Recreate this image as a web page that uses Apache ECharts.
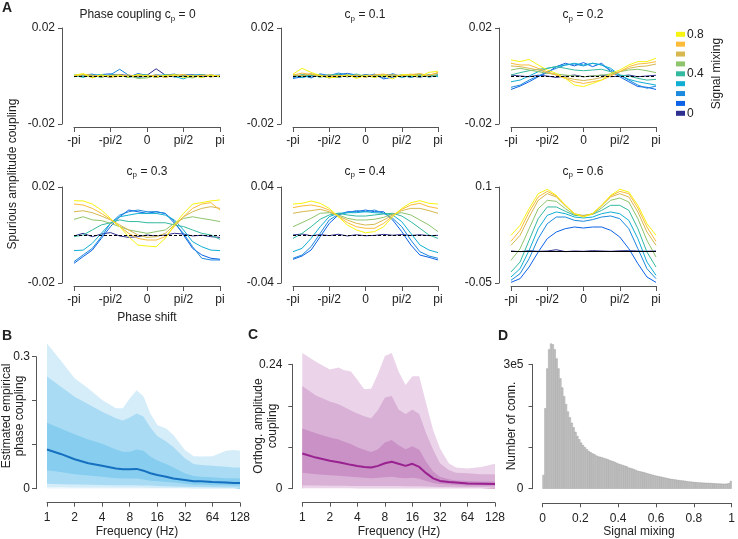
<!DOCTYPE html>
<html>
<head>
<meta charset="utf-8">
<script src="https://cdn.jsdelivr.net/npm/echarts@6/dist/echarts.min.js"></script>
<style>
html, body { margin: 0; padding: 0; background: #fff; }
#chart { width: 738px; height: 539px; }
</style>
</head>
<body>
<div id="chart"></div>
<script>
var FONT = 'Liberation Sans, Arial, sans-serif';

// ---- panel A: spurious amplitude coupling vs phase shift ----
var phaseLabels = ['-pi','-7pi/8','-3pi/4','-5pi/8','-pi/2','-3pi/8','-pi/4','-pi/8','0',
                   'pi/8','pi/4','3pi/8','pi/2','5pi/8','3pi/4','7pi/8','pi'];
var mixing = ['0','0.1','0.2','0.3','0.4','0.5','0.6','0.7','0.8'];
var mixColors = ['#2e2f8f','#0b62e6','#1b89dd','#10aed3','#33b99f','#8ec46c','#d6b84f','#fcbc3a','#f7f40f'];

// one row per signal mixing level (0 ... 0.8)
var cp00 = [
  [0.0002,-0.0003,0.0004,0.0001,-0.0005,0.0006,0.0002,-0.0002,0.0003,0.0030,0.0004,-0.0003,0.0002,0.0005,-0.0002,0.0004,-0.0001],
  [0.0003,0.0005,-0.0004,0.0006,0.0009,0.0002,-0.0005,0.0010,0.0003,-0.0006,0.0004,0.0008,-0.0003,0.0002,0.0006,-0.0002,0.0001],
  [-0.0002,0.0004,0.0008,-0.0003,0.0005,0.0028,0.0003,-0.0006,-0.0002,0.0005,0.0002,-0.0004,0.0006,0.0003,-0.0005,0.0002,0.0004],
  [0.0001,-0.0005,0.0003,0.0006,-0.0002,0.0004,-0.0006,0.0002,0.0005,-0.0003,0.0006,-0.0002,-0.0012,0.0003,0.0005,-0.0004,0.0002],
  [0.0004,-0.0003,0.0002,-0.0006,0.0005,0.0003,-0.0004,0.0006,-0.0002,0.0003,-0.0005,0.0004,0.0002,-0.0003,0.0005,0.0001,-0.0004],
  [-0.0003,0.0005,-0.0006,0.0002,-0.0004,0.0003,0.0001,-0.0010,-0.0008,0.0002,-0.0005,0.0006,-0.0003,-0.0008,0.0004,-0.0002,0.0003],
  [0.0002,0.0006,-0.0002,0.0004,-0.0005,-0.0002,0.0005,-0.0003,0.0004,-0.0006,0.0003,-0.0001,0.0005,-0.0004,0.0002,0.0005,-0.0002],
  [-0.0001,0.0008,0.0003,-0.0004,0.0002,0.0005,-0.0003,0.0002,-0.0002,0.0004,-0.0006,0.0003,0.0006,-0.0002,0.0003,-0.0004,0.0002],
  [0.0003,0.0010,-0.0008,0.0005,-0.0003,0.0002,-0.0005,0.0006,0.0001,-0.0004,0.0003,0.0005,-0.0006,0.0002,-0.0007,0.0004,-0.0003]
];
var cp01 = [
  [-0.0003,0.0002,-0.0005,0.0004,0.0001,-0.0006,0.0003,-0.0002,0.0005,-0.0004,0.0002,0.0006,-0.0003,0.0001,-0.0005,0.0003,0.0002],
  [-0.0010,-0.0004,0.0006,0.0002,-0.0008,0.0005,0.0011,0.0004,-0.0003,0.0008,-0.0012,-0.0005,0.0003,-0.0006,0.0004,-0.0002,0.0005],
  [-0.0006,0.0003,-0.0008,0.0009,0.0002,0.0012,0.0005,-0.0003,0.0006,0.0001,-0.0007,0.0010,-0.0004,0.0003,0.0008,-0.0005,0.0002],
  [0.0005,-0.0007,0.0002,-0.0003,0.0006,-0.0005,0.0002,0.0008,-0.0004,0.0003,-0.0002,0.0005,-0.0006,0.0002,-0.0004,0.0006,-0.0003],
  [-0.0004,0.0006,0.0003,-0.0005,0.0002,0.0007,-0.0004,0.0003,-0.0002,0.0005,0.0004,-0.0003,0.0006,-0.0005,0.0003,0.0002,0.0004],
  [0.0003,-0.0002,0.0008,0.0004,-0.0006,0.0002,-0.0003,0.0005,0.0002,-0.0005,0.0006,0.0003,-0.0002,0.0004,0.0007,-0.0003,0.0005],
  [0.0006,0.0002,0.0010,-0.0004,0.0005,-0.0002,0.0004,-0.0006,0.0003,0.0002,-0.0004,0.0006,0.0001,0.0008,-0.0002,0.0004,0.0012],
  [0.0004,0.0012,0.0006,0.0002,-0.0005,0.0003,-0.0002,0.0004,-0.0006,0.0005,0.0008,-0.0002,0.0003,0.0006,0.0010,0.0002,0.0015],
  [0.0008,0.0032,0.0015,0.0002,-0.0008,-0.0004,0.0005,-0.0010,0.0002,-0.0006,0.0003,-0.0012,0.0006,0.0004,-0.0003,0.0015,0.0020]
];
var cp02 = [
  [0.0004,0,-0.0003,0.0003,0,-0.0006,0,0.0004,-0.0003,0,0.0003,-0.0003,0,0.0004,-0.0003,0,0.0003],
  [-0.0056,-0.0042,-0.0024,-0.0003,0.0014,0.0039,0.0053,0.0042,0.0056,0.0039,0.0053,0.0018,-0.0003,-0.0024,-0.0044,-0.0047,-0.0056],
  [-0.0047,-0.0038,-0.0017,0,0.0018,0.0032,0.0046,0.0050,0.0042,0.0053,0.0046,0.0025,0.0004,-0.0017,-0.0038,-0.0051,-0.0042],
  [-0.0024,-0.0017,0,0.0018,0.0032,0.0039,0.0046,0.0053,0.0046,0.0053,0.0046,0.0032,0.0004,-0.0014,-0.0024,-0.0031,-0.0038],
  [0.0004,0.0014,0.0022,0.0028,0.0032,0.0039,0.0032,0.0025,0.0022,0.0025,0.0028,0.0018,0.0004,0,-0.0010,-0.0017,-0.0014],
  [0.0025,0.0032,0.0025,0.0018,0.0011,0.0008,0.0004,0,-0.0003,0,0.0004,0.0008,0.0018,0.0025,0.0028,0.0022,0.0014],
  [0.0042,0.0039,0.0032,0.0025,0.0014,0.0004,-0.0006,-0.0014,-0.0019,-0.0014,-0.0006,0.0004,0.0018,0.0032,0.0039,0.0042,0.0050],
  [0.0053,0.0046,0.0046,0.0032,0.0018,0.0004,-0.0010,-0.0024,-0.0031,-0.0024,-0.0017,0,0.0018,0.0039,0.0050,0.0053,0.0060],
  [0.0067,0.0060,0.0069,0.0046,0.0025,0.0011,-0.0010,-0.0038,-0.0044,-0.0031,-0.0017,0.0011,0.0025,0.0046,0.0060,0.0060,0.0074]
];
var cp03 = [
  [-0.0004,0.0007,-0.0007,0.0004,0.0010,-0.0004,-0.0010,-0.0007,0,-0.0004,0,0.0007,0.0004,-0.0004,-0.0001,-0.0007,-0.0010],
  [-0.0118,-0.0090,-0.0063,-0.0014,0.0035,0.0076,0.0104,0.0097,0.0090,0.0097,0.0090,0.0056,0,-0.0056,-0.0083,-0.0097,-0.0101],
  [-0.0111,-0.0083,-0.0056,-0.0007,0.0049,0.0083,0.0097,0.0104,0.0097,0.0097,0.0090,0.0049,0.0007,-0.0049,-0.0097,-0.0104,-0.0104],
  [-0.0065,-0.0063,-0.0035,0.0007,0.0049,0.0076,0.0083,0.0090,0.0090,0.0090,0.0083,0.0063,0.0021,-0.0028,-0.0049,-0.0063,-0.0065],
  [-0.0007,0,0.0021,0.0042,0.0051,0.0063,0.0056,0.0056,0.0051,0.0051,0.0051,0.0042,0.0035,0.0021,0.0007,0,-0.0018],
  [0.0065,0.0076,0.0063,0.0060,0.0049,0.0035,0.0021,0.0014,0.0007,0.0014,0.0021,0.0049,0.0069,0.0076,0.0069,0.0063,0.0056],
  [0.0097,0.0101,0.0093,0.0079,0.0063,0.0042,0.0021,0,-0.0010,-0.0007,0.0007,0.0042,0.0076,0.0097,0.0111,0.0118,0.0111],
  [0.0129,0.0125,0.0111,0.0090,0.0065,0.0035,0.0007,-0.0014,-0.0021,-0.0021,-0.0007,0.0035,0.0076,0.0111,0.0129,0.0135,0.0104],
  [0.0143,0.0142,0.0129,0.0104,0.0069,0.0035,-0.0007,-0.0042,-0.0046,-0.0049,-0.0014,0.0042,0.0090,0.0129,0.0135,0.0142,0.0146]
];
var cp04 = [
  [0,0.0008,-0.0006,0.0003,-0.0005,0.0006,-0.0008,0.0002,-0.0006,-0.0003,0.0005,-0.0002,0.0004,-0.0004,0.0002,-0.0005,-0.0003],
  [-0.0203,-0.0175,-0.0125,-0.0014,0.0097,0.0167,0.0194,0.0194,0.0208,0.0194,0.0194,0.0125,0.0028,-0.0083,-0.0167,-0.0186,-0.0208],
  [-0.0194,-0.0167,-0.0097,0.0014,0.0125,0.0172,0.0186,0.0203,0.0194,0.0208,0.0181,0.0139,0.0069,-0.0042,-0.0139,-0.0175,-0.0194],
  [-0.0139,-0.0111,-0.0028,0.0069,0.0153,0.0181,0.0186,0.0186,0.0194,0.0186,0.0181,0.0167,0.0111,0.0014,-0.0083,-0.0125,-0.0147],
  [-0.0028,0.0014,0.0069,0.0131,0.0167,0.0181,0.0167,0.0158,0.0158,0.0167,0.0175,0.0181,0.0158,0.0111,0.0056,0,-0.0028],
  [0.0069,0.0103,0.0139,0.0181,0.0186,0.0167,0.0139,0.0125,0.0125,0.0131,0.0147,0.0175,0.0186,0.0167,0.0125,0.0083,0.0028],
  [0.0181,0.0194,0.0203,0.0214,0.0194,0.0158,0.0125,0.0097,0.0083,0.0089,0.0125,0.0167,0.0203,0.0222,0.0222,0.0203,0.0181],
  [0.0228,0.0242,0.0250,0.0236,0.0208,0.0153,0.0103,0.0069,0.0056,0.0056,0.0097,0.0158,0.0214,0.0250,0.0264,0.0236,0.0222],
  [0.0258,0.0264,0.0283,0.0264,0.0222,0.0153,0.0083,0.0042,0.0019,0.0028,0.0069,0.0153,0.0222,0.0269,0.0286,0.0264,0.0258]
];
var cp06 = [
  [0,-0.0010,0.0005,-0.0005,0,0.0020,-0.0010,0,-0.0005,0.0005,0,-0.0005,0.0003,0.0005,0,-0.0003,0],
  [-0.0490,-0.0432,-0.0250,-0.0016,0.0193,0.0297,0.0349,0.0375,0.0359,0.0375,0.0375,0.0323,0.0219,0.0036,-0.0198,-0.0406,-0.0490],
  [-0.0458,-0.0354,-0.0120,0.0193,0.0427,0.0531,0.0531,0.0479,0.0464,0.0490,0.0531,0.0547,0.0505,0.0349,0.0036,-0.0276,-0.0432],
  [-0.0406,-0.0276,0.0010,0.0349,0.0557,0.0610,0.0583,0.0531,0.0516,0.0531,0.0583,0.0610,0.0583,0.0479,0.0193,-0.0172,-0.0380],
  [-0.0328,-0.0172,0.0167,0.0505,0.0688,0.0688,0.0620,0.0557,0.0547,0.0573,0.0635,0.0714,0.0714,0.0635,0.0349,-0.0016,-0.0250],
  [-0.0146,0.0036,0.0349,0.0661,0.0792,0.0776,0.0661,0.0568,0.0557,0.0578,0.0672,0.0792,0.0828,0.0766,0.0505,0.0167,-0.0094],
  [0.0089,0.0245,0.0531,0.0792,0.0896,0.0844,0.0703,0.0583,0.0547,0.0583,0.0703,0.0844,0.0896,0.0844,0.0609,0.0297,0.0089],
  [0.0151,0.0323,0.0609,0.0844,0.0932,0.0860,0.0714,0.0583,0.0542,0.0583,0.0714,0.0860,0.0932,0.0896,0.0672,0.0375,0.0151],
  [0.0245,0.0401,0.0661,0.0896,0.0964,0.0870,0.0714,0.0583,0.0531,0.0583,0.0714,0.0870,0.0964,0.0922,0.0714,0.0427,0.0245]
];

// ---- panel B: estimated empirical phase coupling (quantile bands) ----
var freqB     = [1, 1.41, 2, 2.83, 4, 5.66, 6.73, 8, 9.51, 11.3, 13.45, 16, 20, 24, 32, 40, 48, 64, 90, 110, 128];
var bOuterHi  = [0.330,0.292,0.251,0.228,0.2015,0.183,0.183,0.205,0.224,0.210,0.171,0.145,0.137,0.122,0.088,0.074,0.073,0.074,0.086,0.088,0.086];
var bMidHi    = [0.255,0.232,0.209,0.192,0.175,0.160,0.155,0.162,0.171,0.164,0.139,0.120,0.107,0.095,0.069,0.056,0.054,0.052,0.050,0.048,0.048];
var bInnerHi  = [0.150,0.137,0.124,0.112,0.102,0.089,0.084,0.084,0.089,0.086,0.073,0.064,0.056,0.048,0.035,0.029,0.027,0.026,0.024,0.024,0.023];
var bMedian   = [0.089,0.079,0.067,0.058,0.052,0.046,0.044,0.044,0.045,0.041,0.035,0.031,0.027,0.023,0.020,0.017,0.017,0.015,0.014,0.013,0.013];
var bInnerLo  = [0.042,0.038,0.033,0.030,0.027,0.024,0.023,0.023,0.023,0.021,0.018,0.017,0.015,0.014,0.011,0.009,0.009,0.008,0.0076,0.0075,0.007];
var bMidLo    = [0.011,0.010,0.0095,0.009,0.0085,0.008,0.008,0.008,0.008,0.0075,0.007,0.006,0.0055,0.005,0.0045,0.004,0.004,0.0035,0.003,0.003,0.003];
var bOuterLo  = [0.0025,0.0025,0.0022,0.0022,0.002,0.002,0.002,0.002,0.002,0.002,0.0018,0.0018,0.0016,0.0015,0.0014,0.0012,0.0012,0.001,0.001,0.001,0.001];

// ---- panel C: orthogonalized amplitude coupling (quantile bands) ----
var freqC     = [1, 1.41, 2, 2.5, 2.83, 3.4, 4, 4.76, 5.66, 6.73, 8, 9.51, 11.3, 13.45, 16, 19, 22.6, 27, 32, 40, 48, 64, 90, 128];
var cOuterHi  = [0.262,0.245,0.230,0.234,0.229,0.226,0.210,0.192,0.193,0.222,0.256,0.262,0.226,0.200,0.217,0.217,0.165,0.113,0.078,0.049,0.041,0.039,0.042,0.048];
var cMidHi    = [0.198,0.180,0.168,0.163,0.158,0.151,0.145,0.140,0.136,0.152,0.176,0.179,0.153,0.144,0.153,0.144,0.107,0.075,0.049,0.036,0.031,0.030,0.028,0.028];
var cInnerHi  = [0.116,0.107,0.099,0.095,0.091,0.086,0.080,0.075,0.071,0.076,0.089,0.094,0.084,0.076,0.082,0.075,0.052,0.033,0.023,0.018,0.016,0.015,0.014,0.014];
var cMedian   = [0.068,0.060,0.054,0.051,0.049,0.046,0.044,0.042,0.041,0.044,0.049,0.052,0.048,0.044,0.048,0.042,0.030,0.020,0.015,0.013,0.012,0.010,0.0096,0.009];
var cInnerLo  = [0.031,0.028,0.026,0.025,0.024,0.023,0.022,0.021,0.020,0.021,0.022,0.023,0.021,0.020,0.021,0.019,0.015,0.011,0.009,0.008,0.007,0.0064,0.006,0.006];
var cMidLo    = [0.0064,0.006,0.0058,0.0056,0.0055,0.0054,0.0052,0.005,0.005,0.005,0.005,0.005,0.005,0.0048,0.0048,0.0046,0.0042,0.0038,0.0034,0.0032,0.003,0.003,0.003,0.003];
var cOuterLo  = [0.0012,0.0012,0.0012,0.0012,0.0012,0.0012,0.0011,0.0011,0.0011,0.0011,0.0011,0.0011,0.0011,0.0011,0.0011,0.001,0.001,0.001,0.001,0.001,0.001,0.001,0.001,0.001];

// ---- panel D: histogram of signal mixing (100 bins of width 0.01) ----
var histCounts = [
  33000,194000,290000,336000,350000,348000,336000,314000,290000,266000,
  244000,223000,204000,186000,172000,159000,148000,137000,127000,119000,
  111000,105000,100000,95000,91000,88000,85000,83000,80000,78000,
  77000,75500,74000,72500,71000,69000,67500,66000,64000,62000,
  60000,58500,57000,55500,54000,51000,50000,48500,47000,45000,
  43000,42000,41000,40000,38500,37000,36000,34500,33500,32000,
  31000,30000,29000,28000,27000,26000,25000,24000,23500,22500,
  22000,21000,20500,20000,19500,19000,18000,17500,17000,16500,
  16000,15500,15200,15000,14700,14500,14200,14000,13700,13500,
  13000,12800,12600,12400,12200,12000,12000,12200,13000,18500
];
var mixTicks = [0, 0.2, 0.4, 0.6, 0.8, 1];

var chart = echarts.init(document.getElementById('chart'), null, {renderer: 'canvas'});

var AXIS_COLOR = '#555';
var LABEL_COLOR = '#222';
var TICK_FONT = 12;

function lineAxis() { return {show: true, onZero: false, lineStyle: {color: AXIS_COLOR, width: 1}}; }
function tick(len, vals) {
  var t = {show: true, length: len, lineStyle: {color: AXIS_COLOR, width: 1}};
  if (vals) t.customValues = vals;
  return t;
}
function label(margin, vals, extra) {
  var l = {show: true, margin: margin, color: LABEL_COLOR, fontSize: TICK_FONT, fontFamily: FONT};
  if (vals) l.customValues = vals;
  if (extra) for (var k in extra) l[k] = extra[k];
  return l;
}

var grids = [], xAxes = [], yAxes = [], series = [];

var aPanels = [
  {data: cp00, min: -0.02, max: 0.02, left: 74,  top: 28,  width: 146, ref: [3, 2]},
  {data: cp01, min: -0.02, max: 0.02, left: 293, top: 28,  width: 145, ref: [3, 2]},
  {data: cp02, min: -0.02, max: 0.02, left: 511, top: 28,  width: 145, ref: [3, 2]},
  {data: cp03, min: -0.02, max: 0.02, left: 74,  top: 187, width: 146, ref: [3, 2]},
  {data: cp04, min: -0.04, max: 0.04, left: 293, top: 187, width: 145, ref: [3, 2]},
  {data: cp06, min: -0.05, max: 0.1,  left: 511, top: 187, width: 145, ref: 'solid'}
];

aPanels.forEach(function (p, i) {
  grids.push({left: p.left, top: p.top, width: p.width, height: 96});
  xAxes.push({
    gridIndex: i, type: 'category', data: phaseLabels, boundaryGap: false, offset: 3,
    axisLine: lineAxis(),
    axisTick: {show: true, interval: 3, length: 5, lineStyle: {color: AXIS_COLOR}},
    axisLabel: {interval: 3, margin: 8, color: LABEL_COLOR, fontSize: TICK_FONT, fontFamily: FONT},
    splitLine: {show: false}
  });
  yAxes.push({
    gridIndex: i, type: 'value', min: p.min, max: p.max, offset: 12,
    axisLine: lineAxis(), axisTick: tick(4, [p.min, p.max]), axisLabel: label(7, [p.min, p.max]),
    splitLine: {show: false}
  });
  p.data.forEach(function (row, m) {
    var s = {
      type: 'line', name: mixing[m], xAxisIndex: i, yAxisIndex: i, data: row,
      symbol: 'none', silent: true, z: m === 0 ? 2 : 3,
      lineStyle: {width: 1, color: mixColors[m]}, itemStyle: {color: mixColors[m]}
    };
    if (m === 0) {
      s.markLine = {
        silent: true, symbol: ['none', 'none'], label: {show: false},
        lineStyle: {color: '#000', width: 1, type: p.ref}, data: [{yAxis: 0}]
      };
    }
    series.push(s);
  });
});

// B and C: layered opaque quantile bands
function bandPanel(idx, freq, bands, median, medColor) {
  bands.forEach(function (b) {
    series.push({
      type: 'line', xAxisIndex: idx, yAxisIndex: idx, clip: false, silent: true,
      data: freq.map(function (f, j) { return [f, b[0][j]]; }),
      symbol: 'none', lineStyle: {width: 0}, areaStyle: {color: b[1], opacity: 1}
    });
  });
  series.push({
    type: 'line', xAxisIndex: idx, yAxisIndex: idx, clip: false, silent: true,
    data: freq.map(function (f, j) { return [f, median[j]]; }),
    symbol: 'none', lineStyle: {width: 2, color: medColor}
  });
}

function freqAxis(idx) {
  return {
    gridIndex: idx, type: 'log', logBase: 2, min: 1, max: 128, offset: 14,
    axisLine: lineAxis(), axisTick: tick(4), axisLabel: label(9), splitLine: {show: false}
  };
}

grids.push({left: 47, top: 356.7, width: 193, height: 132});
xAxes.push(freqAxis(6));
yAxes.push({
  gridIndex: 6, type: 'value', min: 0, max: 0.3, offset: 11,
  axisLine: lineAxis(), axisTick: tick(4, [0, 0.1, 0.2, 0.3]), axisLabel: label(6, [0, 0.3]),
  splitLine: {show: false}
});
bandPanel(6, freqB, [
  [bOuterHi, '#d5edf9'], [bMidHi, '#a9dcf4'], [bInnerHi, '#86cdef'],
  [bInnerLo, '#a9dcf4'], [bMidLo, '#d5edf9'], [bOuterLo, '#ffffff']
], bMedian, '#1670c0');

grids.push({left: 302.3, top: 364.3, width: 192.7, height: 124.4});
xAxes.push(freqAxis(7));
yAxes.push({
  gridIndex: 7, type: 'value', min: 0, max: 0.24, offset: 10,
  axisLine: lineAxis(), axisTick: tick(4, [0, 0.08, 0.16, 0.24]), axisLabel: label(10, [0, 0.24]),
  splitLine: {show: false}
});
bandPanel(7, freqC, [
  [cOuterHi, '#ebd4e9'], [cMidHi, '#dab1d6'], [cInnerHi, '#c991c6'],
  [cInnerLo, '#dab1d6'], [cMidLo, '#ebd4e9'], [cOuterLo, '#ffffff']
], cMedian, '#9a2290');

// D: histogram
grids.push({left: 542.5, top: 364.3, width: 194.2, height: 124.4});
xAxes.push({
  gridIndex: 8, type: 'category', data: histCounts.map(function (_, i) { return i; }),
  position: 'bottom', show: false, boundaryGap: true
});
xAxes.push({
  gridIndex: 8, type: 'value', min: 0, max: 1, interval: 0.2, position: 'bottom', offset: 14.6,
  axisLine: lineAxis(), axisTick: tick(4, mixTicks), axisLabel: label(9, mixTicks), splitLine: {show: false}
});
yAxes.push({
  gridIndex: 8, type: 'value', min: 0, max: 300000, offset: 10,
  axisLine: lineAxis(), axisTick: tick(4, [0, 100000, 200000, 300000]),
  axisLabel: label(9, [0, 300000], {formatter: function (v) { return v === 0 ? '0' : (v / 100000) + 'e5'; }}),
  splitLine: {show: false}
});
series.push({
  type: 'bar', xAxisIndex: 8, yAxisIndex: 8, data: histCounts, clip: false, silent: true,
  barCategoryGap: '0%', barGap: '0%',
  itemStyle: {color: '#c9c9c9', borderColor: '#8c8c8c', borderWidth: 0.4}
});

// ---- text elements ----
function txt(x, y, s, size, opts) {
  var o = {
    type: 'text', x: x, y: y, silent: true,
    style: {text: s, fontSize: size, fontFamily: FONT, fill: '#222', align: 'center', verticalAlign: 'middle'}
  };
  if (opts) {
    if (opts.rotation) o.rotation = opts.rotation;
    if (opts.bold) o.style.fontWeight = 'bold';
    if (opts.align) o.style.align = opts.align;
    if (opts.lineHeight) o.style.lineHeight = opts.lineHeight;
  }
  return o;
}
var subRich = {
  a: {fontSize: 12, fontFamily: FONT, fill: '#222'},
  s: {fontSize: 8, fontFamily: FONT, fill: '#222', padding: [7, 0, 0, 0]}
};
function title(x, y, prefix, val) {
  return {
    type: 'text', x: x, y: y, silent: true,
    style: {text: '{a|' + prefix + 'c}{s|p}{a| = ' + val + '}', rich: subRich, align: 'center', verticalAlign: 'middle'}
  };
}

var cpTitles = ['0', '0.1', '0.2', '0.3', '0.4', '0.6'];
var titleX = [137.5, 365, 583, 147, 365, 583];
var titleY = [15, 15, 15, 171.5, 171.5, 171.5];

var graphics = [];
cpTitles.forEach(function (v, i) {
  graphics.push(title(titleX[i], titleY[i], i === 0 ? 'Phase coupling ' : '', v));
});
graphics.push(txt(7, 8, 'A', 14, {bold: true}));
graphics.push(txt(7, 336, 'B', 14, {bold: true}));
graphics.push(txt(253, 335, 'C', 14, {bold: true}));
graphics.push(txt(503, 336, 'D', 14, {bold: true}));
graphics.push(txt(13, 174, 'Spurious amplitude coupling', 12, {rotation: Math.PI / 2}));
graphics.push(txt(147, 318, 'Phase shift', 12));
graphics.push(txt(137, 532, 'Frequency (Hz)', 12));
graphics.push(txt(399, 532, 'Frequency (Hz)', 12));
graphics.push(txt(639, 532, 'Signal mixing', 12));
graphics.push(txt(13.5, 416, 'Estimated empirical\nphase coupling', 12, {rotation: Math.PI / 2, lineHeight: 13}));
graphics.push(txt(265.5, 426, 'Orthog. amplitude\ncoupling', 12, {rotation: Math.PI / 2, lineHeight: 14}));
graphics.push(txt(512, 426, 'Number of conn.', 12, {rotation: Math.PI / 2}));

// legend for signal mixing
var legendLabels = {'0.8': true, '0.4': true, '0': true};
for (var i = 0; i < mixing.length; i++) {
  var m = mixing.length - 1 - i;
  var cy = 34.3 + i * 9.875;
  graphics.push({type: 'rect', silent: true, shape: {x: 676, y: cy - 2.5, width: 9, height: 5}, style: {fill: mixColors[m]}});
  if (legendLabels[mixing[m]]) graphics.push(txt(687, cy, mixing[m], 12, {align: 'left'}));
}
graphics.push(txt(717, 73.5, 'Signal mixing', 12, {rotation: Math.PI / 2}));

chart.setOption({
  animation: false,
  backgroundColor: '#ffffff',
  textStyle: {fontFamily: FONT},
  grid: grids,
  xAxis: xAxes,
  yAxis: yAxes,
  series: series,
  graphic: {elements: graphics}
});
</script>
</body>
</html>
